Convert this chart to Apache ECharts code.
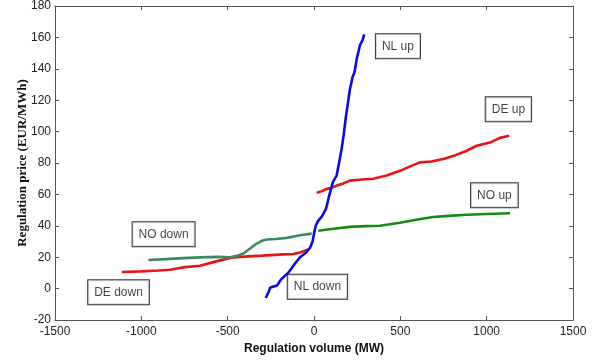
<!DOCTYPE html>
<html>
<head>
<meta charset="utf-8">
<script src="https://cdn.jsdelivr.net/npm/echarts@6/dist/echarts.min.js"></script>
<style>
  html, body { margin: 0; padding: 0; background: #fff; }
  #chart { width: 595px; height: 360px; }
</style>
</head>
<body>
<div id="chart"></div>
<script>
// [volume MW, price EUR/MWh]
const nlCurve = [
  [-280, -6], [-262, -2], [-255, 0.5], [-230, 1.5], [-214, 2], [-190, 6], [-150, 10],
  [-110, 16], [-81, 20], [-45, 23], [-23, 26], [-8, 30], [0, 35], [10, 40],
  [23, 43], [46, 46], [70, 51], [90, 60], [110, 68], [131, 72], [145, 80],
  [160, 89], [172, 98], [183, 108], [196, 118], [208, 127], [224, 135],
  [235, 138], [247, 146], [266, 155], [280, 158], [291, 162]
];
const deDown = [
  [-1112, 10.6], [-1000, 11], [-900, 11.5], [-834, 12], [-760, 13.5], [-660, 14.6],
  [-560, 17.5], [-467, 19.9], [-380, 20.5], [-300, 21], [-178, 21.8], [-120, 22],
  [-81, 23], [-33, 25]
];
const deUp = [
  [15, 61], [45, 62], [73, 63.5], [100, 64], [131, 65.6], [170, 67], [208, 68.8],
  [280, 69.5], [343, 70], [420, 72], [498, 75], [560, 78], [614, 80.4], [680, 81],
  [749, 82.5], [820, 85], [884, 87.8], [942, 91], [1019, 93], [1077, 96], [1131, 97.3]
];
const noDown = [
  [-959, 18.2], [-860, 18.8], [-760, 19.4], [-660, 19.9], [-560, 20.2], [-486, 20],
  [-440, 21], [-409, 22.4], [-370, 25.5], [-332, 28.7], [-300, 30.5], [-274, 31.3],
  [-220, 31.6], [-158, 32.3], [-81, 34], [-13, 35]
];
const noUp = [
  [25, 36.8], [100, 38], [208, 39.3], [300, 39.8], [382, 40], [440, 41], [498, 42],
  [600, 44], [691, 45.6], [780, 46.3], [884, 47], [1000, 47.5], [1135, 48]
];
// text boxes: label, volume, price (box centre)
const boxLabels = [
  ['NL up', 486, 154.4],
  ['DE up', 1126, 114.2],
  ['NO up', 1045, 59.4],
  ['NO down', -871, 34.6],
  ['DE down', -1132, -2.3],
  ['NL down', 20, 1.1]
];
const xTicks = { min: -1500, max: 1500, interval: 500 };
const yTicks = { min: -20, max: 180, interval: 20 };

const chart = echarts.init(document.getElementById('chart'));

const axisLine = { show: true, onZero: false, lineStyle: { color: '#555', width: 1 } };
const tick = { inside: true, length: 4, lineStyle: { color: '#555' } };
const tickLabel = {
  color: '#222', fontFamily: 'Arial, Liberation Sans', fontSize: 12,
  formatter: v => String(v)
};

const line = (data, color) => ({
  type: 'line',
  data,
  showSymbol: false,
  symbol: 'none',
  lineStyle: { color, width: 2.6 },
  z: 3
});

chart.setOption({
  animation: false,
  grid: { left: 55, right: 22, top: 6, bottom: 38 },
  xAxis: [
    {
      type: 'value', ...xTicks,
      axisLine, axisTick: tick,
      splitLine: { show: false },
      axisLabel: { ...tickLabel, margin: 6 },
      name: 'Regulation volume (MW)',
      nameLocation: 'middle', nameGap: 23,
      nameTextStyle: { color: '#111', fontFamily: 'Arial, Liberation Sans', fontWeight: 'bold', fontSize: 12 }
    },
    {
      type: 'value', position: 'top', ...xTicks,
      axisLine, axisTick: tick, axisLabel: { show: false }, splitLine: { show: false }
    }
  ],
  yAxis: [
    {
      type: 'value', ...yTicks,
      axisLine, axisTick: tick,
      splitLine: { show: false },
      axisLabel: { ...tickLabel, margin: 4 },
      name: 'Regulation price (EUR/MWh)',
      nameLocation: 'middle', nameGap: 26, nameMoveOverlap: false,
      nameTextStyle: { color: '#111', fontFamily: 'Liberation Serif, Times New Roman', fontWeight: 'bold', fontSize: 13 }
    },
    {
      type: 'value', position: 'right', ...yTicks,
      axisLine, axisTick: tick,
      axisLabel: { show: false }, splitLine: { show: false }
    }
  ],
  series: [
    line(deDown, '#e81414'),
    line(deUp, '#e81414'),
    line(noDown, '#3a8a62'),
    line(noUp, '#148c14'),
    line(nlCurve, '#0a0ae8'),
    {
      type: 'scatter',
      symbolSize: 0,
      data: boxLabels.map(([name, x, y]) => ({ name, value: [x, y] })),
      label: {
        show: true,
        position: 'inside',
        formatter: p => p.name,
        color: '#111',
        fontFamily: 'Arial, Liberation Sans',
        fontSize: 12,
        backgroundColor: '#fff',
        borderColor: '#000',
        borderWidth: 1,
        padding: [6, 6, 6, 6]
      },
      z: 5
    }
  ]
});
</script>
</body>
</html>
